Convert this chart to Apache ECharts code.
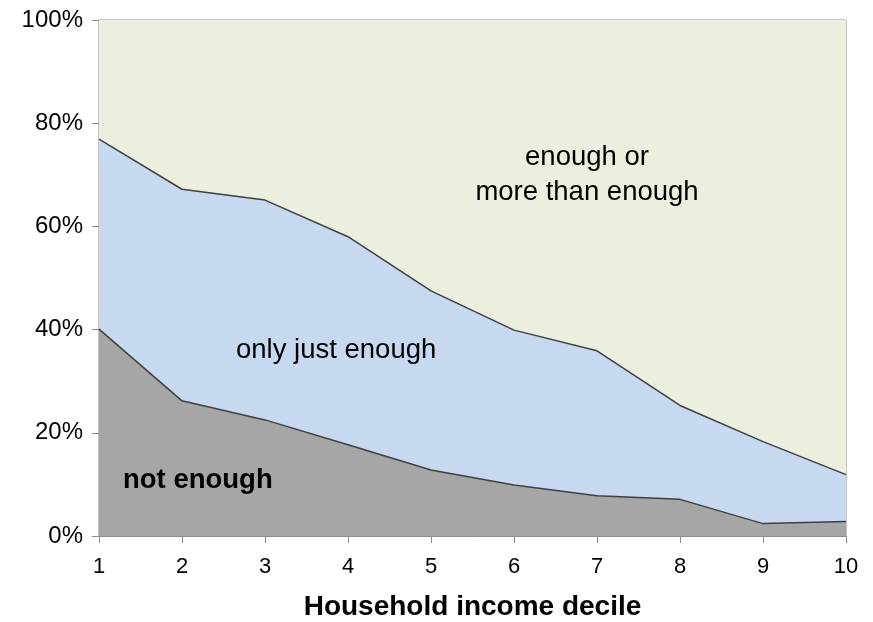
<!DOCTYPE html>
<html>
<head>
<meta charset="utf-8">
<script src="https://cdn.jsdelivr.net/npm/echarts@6/dist/echarts.min.js"></script>
<style>
  html, body { margin: 0; padding: 0; background: #fff; }
  #chart { width: 873px; height: 622px; }
</style>
</head>
<body>
<div id="chart"></div>
<script>
var deciles = ['1', '2', '3', '4', '5', '6', '7', '8', '9', '10'];
var notEnough = [40.1, 26.2, 22.5, 17.7, 12.8, 9.9, 7.8, 7.1, 2.4, 2.8];
var onlyJustEnough = [36.8, 41.0, 42.6, 40.3, 34.7, 30.0, 28.1, 18.2, 15.9, 9.1];
var enoughOrMore = [23.1, 32.8, 34.9, 42.0, 52.5, 60.1, 64.1, 74.7, 81.7, 88.1];

var font = 'Liberation Sans';
var myChart = echarts.init(document.getElementById('chart'));

myChart.setOption({
    animation: false,
    grid: {
        left: 99, right: 27, top: 20, bottom: 86,
        outerBoundsMode: 'none',
        show: true,
        borderColor: '#8c8c8c',
        borderWidth: 1
    },
    xAxis: {
        type: 'category',
        data: deciles,
        boundaryGap: false,
        name: 'Household income decile',
        nameLocation: 'middle',
        nameGap: 57,
        nameTextStyle: { fontFamily: font, fontSize: 28, fontWeight: 'bold', color: '#000' },
        axisLine: { lineStyle: { color: '#8c8c8c' } },
        axisTick: { length: 7, lineStyle: { color: '#8c8c8c' } },
        axisLabel: { fontFamily: font, fontSize: 22, color: '#000', margin: 20 },
        splitLine: { show: false }
    },
    yAxis: {
        type: 'value',
        min: 0,
        max: 100,
        interval: 20,
        axisLine: { show: true, lineStyle: { color: '#8c8c8c' } },
        axisTick: { show: true, length: 7, lineStyle: { color: '#8c8c8c' } },
        axisLabel: { formatter: '{value}%', fontFamily: font, fontSize: 24, color: '#000', margin: 16 },
        splitLine: { show: false }
    },
    series: [{
        name: 'not enough',
        type: 'line',
        stack: 'total',
        data: notEnough,
        symbol: 'none',
        lineStyle: { color: '#404040', width: 1.5 },
        areaStyle: { color: '#a6a6a6', opacity: 1 }
    }, {
        name: 'only just enough',
        type: 'line',
        stack: 'total',
        data: onlyJustEnough,
        symbol: 'none',
        lineStyle: { color: '#404040', width: 1.5 },
        areaStyle: { color: '#c6d9f1', opacity: 1 }
    }, {
        name: 'enough or more than enough',
        type: 'line',
        stack: 'total',
        data: enoughOrMore,
        symbol: 'none',
        lineStyle: { width: 0 },
        areaStyle: { color: '#ebf0de', opacity: 1 }
    }],
    graphic: {
        elements: [{
            type: 'text',
            left: 123, top: 466,
            z: 100,
            style: { text: 'not enough', fontFamily: font, fontSize: 27.5, fontWeight: 'bold', fill: '#000' }
        }, {
            type: 'text',
            left: 236, top: 336,
            z: 100,
            style: { text: 'only just enough', fontFamily: font, fontSize: 27.5, fill: '#000' }
        }, {
            type: 'text',
            x: 587, y: 140,
            z: 100,
            style: {
                text: 'enough or\nmore than enough',
                fontFamily: font,
                fontSize: 27.5,
                fill: '#000',
                align: 'center',
                textAlign: 'center',
                lineHeight: 35
            }
        }]
    }
});
</script>
</body>
</html>
